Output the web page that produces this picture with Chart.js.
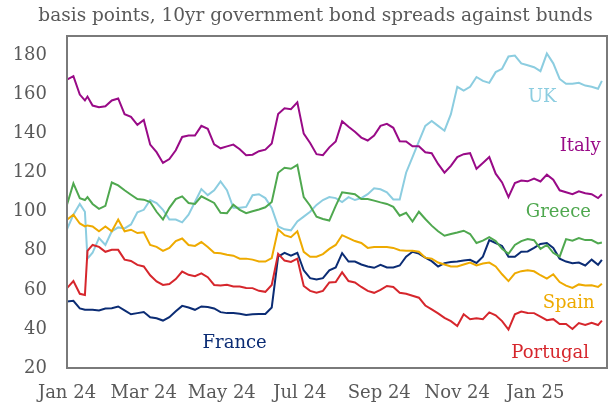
<!DOCTYPE html>
<html>
<head>
<meta charset="utf-8">
<script src="https://cdn.jsdelivr.net/npm/chart.js@4"></script>
<style>
    html, body { margin: 0; padding: 0; background: #fff; }
    canvas { display: block; }
</style>
</head>
<body>
<canvas id="spreadsChart" width="611" height="409"></canvas>
<script>
// days since 1 Jan 2024
const days = [0, 5, 10, 14, 16, 20, 25, 30, 35, 40, 45, 50, 55, 60, 65, 70, 75, 80, 85, 90,
    95, 100, 105, 110, 115, 120, 125, 130, 135, 140, 145, 150, 155, 160, 165, 170, 175, 180, 185, 190,
    195, 200, 205, 210, 215, 220, 225, 230, 235, 240, 245, 250, 255, 260, 265, 270, 275, 280, 285, 290,
    295, 300, 305, 310, 315, 320, 325, 330, 335, 340, 345, 350, 355, 360, 365, 370, 375, 380, 385, 390,
    395, 400, 405, 410, 415, 418];

const italy = [167.7, 169.4, 160, 157, 159, 154.4, 153.5, 154, 157, 158, 150, 148.6, 144.5, 147, 134.4, 130.5, 125, 127, 131.5, 138.3,
    139, 139, 144, 142.5, 134.5, 132.5, 133.5, 134.4, 132, 129, 129.2, 131, 131.8, 135, 150, 153, 152.5, 156, 140, 135.2,
    129.5, 129, 133, 136, 146.3, 143.5, 141, 138, 136.5, 139, 144, 145, 143, 136.1, 136, 133.5, 133.5, 130.5, 130, 124.5,
    120, 123.5, 128, 129.5, 130, 122, 125, 128, 119.5, 115, 107.5, 114.7, 116, 115.6, 117, 115.5, 119, 116.4, 111, 110,
    109, 110.5, 109.5, 109, 107, 109];

const uk = [91, 98.5, 104, 100, 76, 79, 86.5, 83, 90, 92, 91.5, 93.5, 99.7, 101, 106, 104.5, 101, 96, 96, 94.6,
    98.5, 105, 111.6, 108.5, 111, 115.5, 111, 102, 102, 102.5, 108.5, 109, 107, 102, 92.5, 91, 90.5, 95, 97.5, 100,
    103.5, 106, 107.5, 107, 105, 107.5, 106, 107, 109, 112, 111.5, 110, 106.3, 106.3, 120, 128, 136, 144, 146.5, 144,
    141.5, 150, 164, 162, 164, 169, 167, 166, 171.5, 173.2, 179.5, 180, 176, 175, 174, 172, 181, 176, 168, 165.5,
    165.5, 166, 164.6, 164, 163, 167];

const greece = [103.6, 114.5, 107, 106, 107.5, 104, 101.5, 103, 115, 113.5, 111, 108.7, 106.5, 106.2, 105, 100, 96, 102, 106.5, 107.9,
    104.5, 104, 107.9, 106.2, 104.5, 99.5, 99.3, 103.6, 101, 99.3, 100.3, 101.2, 102.3, 105, 120, 122.5, 122, 124, 107.5, 103.1,
    97.5, 96.3, 95.5, 103, 110, 109.5, 109, 106.5, 106.5, 105.7, 104.8, 104, 102.5, 98, 99.5, 95, 100, 96.3, 92.9, 90,
    87.7, 88.6, 89.4, 90.3, 88.6, 84, 85.2, 87, 85, 81, 78.5, 83, 85, 86, 85.4, 81, 83, 79, 77, 86,
    85.2, 86.5, 85.5, 85.5, 83.8, 84.3];

const spain = [95.9, 98.5, 94, 92.5, 93, 92.5, 90, 92.5, 90, 96, 90, 90.8, 89.1, 89.5, 83, 82, 80, 81.5, 85, 86.3,
    83, 82.5, 84.5, 82, 79, 78.8, 78, 77.5, 76, 76, 75.5, 74.5, 74.5, 76.3, 91, 88, 87, 90, 79.5, 77,
    77, 78.3, 81, 83, 88, 86.5, 85, 84, 81.5, 82, 82, 82, 81.5, 80.3, 80, 80, 79.5, 76.5, 76, 74,
    73, 72, 72, 73, 74, 72.5, 73.5, 74, 72, 68, 64.5, 68.5, 69.6, 70, 69.5, 67.5, 65.8, 68, 64, 62.2,
    61, 62.8, 62.3, 62.4, 61.5, 63.2];

const portugal = [60.9, 64.5, 58, 57.4, 80, 83, 82, 79.5, 80.5, 80.5, 75.5, 74.8, 72.8, 72, 67.5, 64.3, 62.5, 63, 65.5, 69.4,
    67.7, 67, 68.5, 66.5, 62.5, 62.2, 62.6, 61.7, 61.7, 61, 60.9, 59.5, 59, 62.5, 78.5, 75, 74.3, 76, 62, 59.5,
    58.5, 59.5, 63.8, 64, 69, 64.5, 63.8, 61.5, 59.5, 58.5, 60, 62, 61.5, 58.5, 58, 57, 56, 52, 50, 48,
    45.7, 44, 41.5, 47.5, 45, 45.5, 45, 48.5, 47, 44, 39.7, 47.5, 48.9, 48.2, 48.1, 46.3, 44.5, 45, 42.5, 42.5,
    40, 43, 42, 43.2, 42, 44.3];

const france = [54, 54.4, 50.5, 49.8, 49.8, 49.8, 49.5, 50.5, 50.6, 51.5, 49.5, 47.5, 48.1, 48.7, 46, 45.5, 44.3, 46, 49, 51.8,
    51, 49.8, 51.5, 51.2, 50.5, 48.6, 48.1, 48.2, 47.8, 47.2, 47.5, 47.7, 47.7, 51, 77, 79, 77.5, 79, 70, 66,
    65.3, 66, 70, 71.5, 78.8, 74.5, 74.5, 73, 72, 71.3, 72.8, 71.5, 71.5, 72.5, 77, 79.5, 78.6, 76.5, 74.7, 72,
    73.7, 74.3, 74.5, 75, 75.4, 73.8, 77, 85.5, 84, 82.5, 77, 77, 79.5, 79.7, 81.5, 83.5, 84, 81.5, 76, 74.5,
    73.7, 74, 72.5, 75.5, 72.8, 75.4];

const tickDays = [0, 60, 121, 182, 244, 305, 366];
const tickLabels = ['Jan 24', 'Mar 24', 'May 24', 'Jul 24', 'Sep 24', 'Nov 24', 'Jan 25'];
const yTicks = [20, 40, 60, 80, 100, 120, 140, 160, 180];

const TITLE = 'basis points, 10yr government bond spreads against bunds';
const SERIF = "'DejaVu Serif', 'Liberation Serif', serif";
const GREY = '#595959';
const FRAME_COLOR = '#7a7a7a';
const FRAME_WIDTH = 2;

// name, values, colour, where the name sits (day, bp)
const series = [
    { name: 'Italy', values: italy, color: '#990a87', at: [401, 133.3] },
    { name: 'Greece', values: greece, color: '#4fa84f', at: [384, 99.5] },
    { name: 'Spain', values: spain, color: '#eeaa00', at: [392, 53.3] },
    { name: 'Portugal', values: portugal, color: '#d6262c', at: [377.6, 27.7] },
    { name: 'France', values: france, color: '#0b2c74', at: [131, 32.8] },
    { name: 'UK', values: uk, color: '#8ccde0', at: [371.4, 158.5] }
];

// title, and the top and right sides of the box (the axes draw the other two)
const frameAndTitle = {
    id: 'frameAndTitle',
    afterDraw(chart) {
        const ctx = chart.ctx;
        const { x, y } = chart.scales;
        ctx.save();
        ctx.beginPath();
        ctx.moveTo(x.left, y.top);
        ctx.lineTo(x.right, y.top);
        ctx.lineTo(x.right, y.bottom);
        ctx.moveTo(x.left, y.top);
        ctx.lineTo(x.left, y.bottom);
        ctx.lineTo(x.right, y.bottom);
        ctx.lineWidth = FRAME_WIDTH;
        ctx.strokeStyle = FRAME_COLOR;
        ctx.stroke();
        ctx.fillStyle = GREY;
        ctx.font = `18.5px ${SERIF}`;
        ctx.textAlign = 'center';
        ctx.textBaseline = 'middle';
        ctx.fillText(TITLE, 315.5, 16);
        ctx.restore();
    }
};

const seriesNames = {
    id: 'seriesNames',
    afterDatasetsDraw(chart) {
        const { ctx, scales } = chart;
        ctx.save();
        ctx.font = `18px ${SERIF}`;
        ctx.textAlign = 'center';
        ctx.textBaseline = 'middle';
        series.forEach(s => {
            ctx.fillStyle = s.color;
            ctx.fillText(s.name, scales.x.getPixelForValue(s.at[0]), scales.y.getPixelForValue(s.at[1]));
        });
        ctx.restore();
    }
};

new Chart(document.getElementById('spreadsChart'), {
    type: 'line',
    data: {
        datasets: series.map(s => ({
            label: s.name,
            data: s.values.map((v, i) => ({ x: days[i], y: v })),
            borderColor: s.color,
            borderWidth: 2,
            pointRadius: 0,
            tension: 0,
            fill: false
        }))
    },
    options: {
        responsive: false,
        animation: false,
        devicePixelRatio: 1,
        layout: { padding: { left: 0, right: 4, top: 36, bottom: 0 } },
        plugins: {
            legend: { display: false },
            tooltip: { enabled: false },
            title: { display: false }
        },
        scales: {
            x: {
                type: 'linear',
                min: 0,
                max: 422,
                grid: { display: false, drawTicks: false },
                border: { display: true, color: FRAME_COLOR, width: FRAME_WIDTH },
                afterBuildTicks: scale => { scale.ticks = tickDays.map(v => ({ value: v })); },
                afterFit: scale => { scale.height = 41; },
                ticks: {
                    autoSkip: false,
                    maxRotation: 0,
                    padding: 15,
                    color: GREY,
                    font: { family: SERIF, size: 18 },
                    callback: v => tickLabels[tickDays.indexOf(v)]
                }
            },
            y: {
                min: 20,
                max: 190,
                grid: { display: false, drawTicks: false },
                border: { display: true, color: FRAME_COLOR, width: FRAME_WIDTH },
                afterBuildTicks: scale => { scale.ticks = yTicks.map(v => ({ value: v })); },
                afterFit: scale => { scale.width = 67; },
                ticks: {
                    padding: 20,
                    color: GREY,
                    font: { family: SERIF, size: 18 }
                }
            }
        }
    },
    plugins: [frameAndTitle, seriesNames]
});
</script>
</body>
</html>
